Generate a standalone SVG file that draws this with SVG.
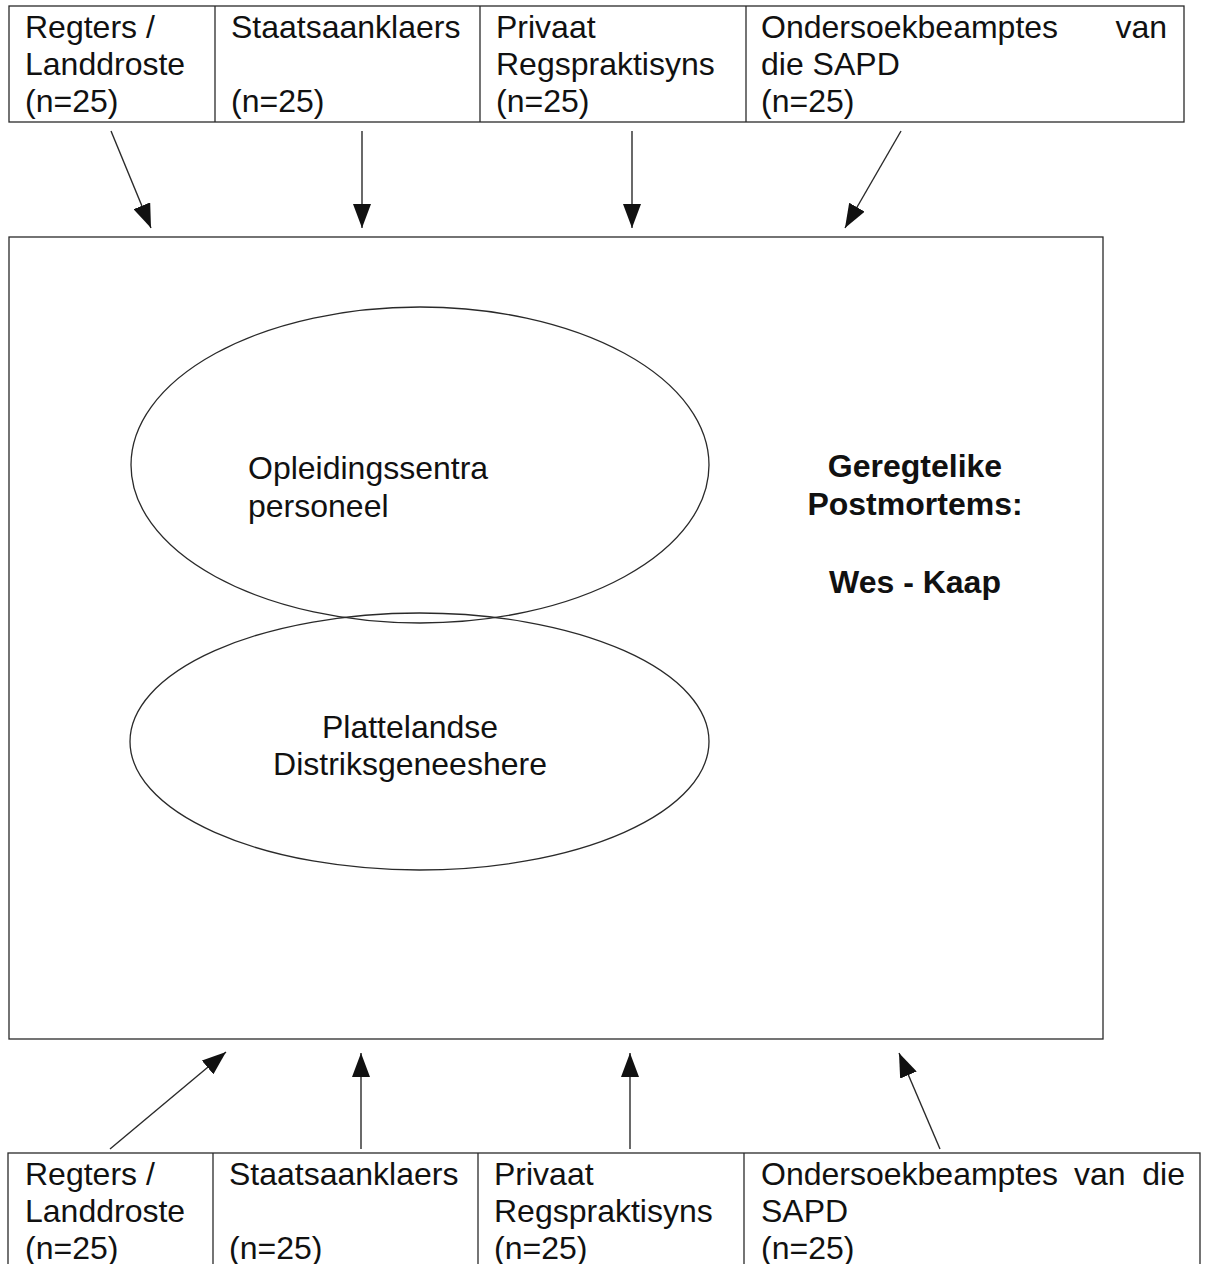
<svg xmlns="http://www.w3.org/2000/svg" width="1205" height="1264" viewBox="0 0 1205 1264">
<defs>
<style>
.box{fill:none;stroke:#2a2a2a;stroke-width:1.3}
.t{font-family:"Liberation Sans",Arial,sans-serif;font-size:32px;fill:#111}
.b{font-family:"Liberation Sans",Arial,sans-serif;font-size:32px;font-weight:bold;fill:#111;text-anchor:middle}
.c{text-anchor:middle}
.conn{stroke:#2a2a2a;stroke-width:1.4;fill:none;marker-end:url(#ah)}
</style>
<marker id="ah" markerUnits="userSpaceOnUse" markerWidth="24" markerHeight="18" refX="24" refY="9" orient="auto" viewBox="0 0 24 18">
<path d="M0,0 L24,9 L0,18 z" fill="#111"/>
</marker>
</defs>
<rect width="1205" height="1264" fill="#ffffff"/>

<g id="top-table">
<rect class="box" x="9" y="6" width="1175" height="116"/>
<line class="box" x1="215" y1="6" x2="215" y2="122"/>
<line class="box" x1="480" y1="6" x2="480" y2="122"/>
<line class="box" x1="746" y1="6" x2="746" y2="122"/>
</g>
<g id="top-regters">
<text class="t" x="25" y="38">Regters /</text>
<text class="t" x="25" y="75">Landdroste</text>
<text class="t" x="25" y="112">(n=25)</text>
</g>
<g id="top-staatsaanklaers">
<text class="t" x="231" y="38">Staatsaanklaers</text>
<text class="t" x="231" y="112">(n=25)</text>
</g>
<g id="top-privaat">
<text class="t" x="496" y="38">Privaat</text>
<text class="t" x="496" y="75">Regspraktisyns</text>
<text class="t" x="496" y="112">(n=25)</text>
</g>
<g id="top-ondersoek">
<text class="t" x="761" y="38">Ondersoekbeamptes</text>
<text class="t" x="1167" y="38" text-anchor="end">van</text>
<text class="t" x="761" y="75">die SAPD</text>
<text class="t" x="761" y="112">(n=25)</text>
</g>

<g id="main">
<rect class="box" x="9" y="237" width="1094" height="802"/>
<text class="b" x="915" y="477">Geregtelike</text>
<text class="b" x="915" y="515">Postmortems:</text>
<text class="b" x="915" y="593">Wes - Kaap</text>
</g>

<g id="opleidingssentra">
<ellipse class="box" cx="420" cy="465" rx="289" ry="158"/>
<text class="t" x="248" y="479">Opleidingssentra</text>
<text class="t" x="248" y="517">personeel</text>
</g>
<g id="plattelandse">
<ellipse class="box" cx="419.5" cy="741.5" rx="289.5" ry="128.5"/>
<text class="t c" x="410" y="738">Plattelandse</text>
<text class="t c" x="410" y="775">Distriksgeneeshere</text>
</g>

<g id="bottom-table">
<rect class="box" x="8" y="1153" width="1192" height="130"/>
<line class="box" x1="213" y1="1153" x2="213" y2="1264"/>
<line class="box" x1="478" y1="1153" x2="478" y2="1264"/>
<line class="box" x1="744" y1="1153" x2="744" y2="1264"/>
</g>
<g id="bottom-regters">
<text class="t" x="25" y="1185">Regters /</text>
<text class="t" x="25" y="1222">Landdroste</text>
<text class="t" x="25" y="1259">(n=25)</text>
</g>
<g id="bottom-staatsaanklaers">
<text class="t" x="229" y="1185">Staatsaanklaers</text>
<text class="t" x="229" y="1259">(n=25)</text>
</g>
<g id="bottom-privaat">
<text class="t" x="494" y="1185">Privaat</text>
<text class="t" x="494" y="1222">Regspraktisyns</text>
<text class="t" x="494" y="1259">(n=25)</text>
</g>
<g id="bottom-ondersoek">
<text class="t" x="761" y="1185">Ondersoekbeamptes</text>
<text class="t" x="1074" y="1185">van</text>
<text class="t" x="1185" y="1185" text-anchor="end">die</text>
<text class="t" x="761" y="1222">SAPD</text>
<text class="t" x="761" y="1259">(n=25)</text>
</g>

<g id="connectors">
<line class="conn" x1="111" y1="131" x2="151" y2="228"/>
<line class="conn" x1="362" y1="131" x2="362" y2="228"/>
<line class="conn" x1="632" y1="131" x2="632" y2="228"/>
<line class="conn" x1="901" y1="131" x2="845" y2="228"/>
<line class="conn" x1="110" y1="1149" x2="226" y2="1052"/>
<line class="conn" x1="361" y1="1149" x2="361" y2="1053"/>
<line class="conn" x1="630" y1="1149" x2="630" y2="1053"/>
<line class="conn" x1="940" y1="1149" x2="899" y2="1053"/>
</g>
</svg>
